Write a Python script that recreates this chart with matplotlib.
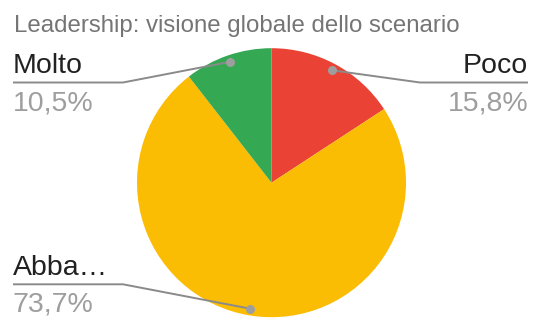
import numpy as np
import matplotlib.pyplot as plt

plt.rcParams["font.family"] = ["Liberation Sans", "DejaVu Sans"]

# ---------------- DATA ----------------
TITLE = "Leadership: visione globale dello scenario"
labels = ["Poco", "Abba…", "Molto"]
counts = [3, 14, 2]
colors = ["#ea4335", "#fbbc04", "#34a853"]

# ---------------- LAYOUT (pixels) ----------------
W, H = 537, 325
CENTER = (271.5, 182.7)
RADIUS = 134.5
DOT_R = 0.95

# label anchor per slice: (side, line y, bend x)
anchors = [
    ("right", 82.5, 420),
    ("left", 284.3, 123),
    ("left", 82.5, 123),
]
LEFT_X, RIGHT_X = 13, 528

fig = plt.figure(figsize=(W / 100, H / 100), dpi=100)
ax = fig.add_axes([0, 0, 1, 1])

# y axis runs downward, so counterclockwise in data is clockwise on screen
wedges, _ = ax.pie(
    counts,
    colors=colors,
    startangle=-90,
    counterclock=True,
    center=CENTER,
    radius=RADIUS,
    wedgeprops=dict(linewidth=0),
)
ax.set_xlim(0, W)
ax.set_ylim(H, 0)
ax.set_aspect("equal")
ax.axis("off")

total = sum(counts)
for w, lab, c, (side, ly, bx) in zip(wedges, labels, counts, anchors):
    mid = np.deg2rad((w.theta1 + w.theta2) / 2)
    px = CENTER[0] + DOT_R * RADIUS * np.cos(mid)
    py = CENTER[1] + DOT_R * RADIUS * np.sin(mid)

    end_x = LEFT_X if side == "left" else RIGHT_X
    ax.plot([px, bx, end_x], [py, ly, ly], color="#8a8a8a", lw=1.4,
            solid_capstyle="butt", zorder=3)
    ax.plot(px, py, "o", ms=6.5, color="#9e9e9e", mec="none", zorder=4)

    pct = f"{c / total * 100:.1f}%".replace(".", ",")
    ha = "left" if side == "left" else "right"
    ax.text(end_x, ly - 9.5, lab, ha=ha, va="baseline", fontsize=20.5,
            color="#212121")
    ax.text(end_x, ly + 27.5, pct, ha=ha, va="baseline", fontsize=20.5,
            color="#9e9e9e")

ax.text(14, 32, TITLE, ha="left", va="baseline", fontsize=17.3, color="#757575")

fig.savefig("out.png", dpi=100)
